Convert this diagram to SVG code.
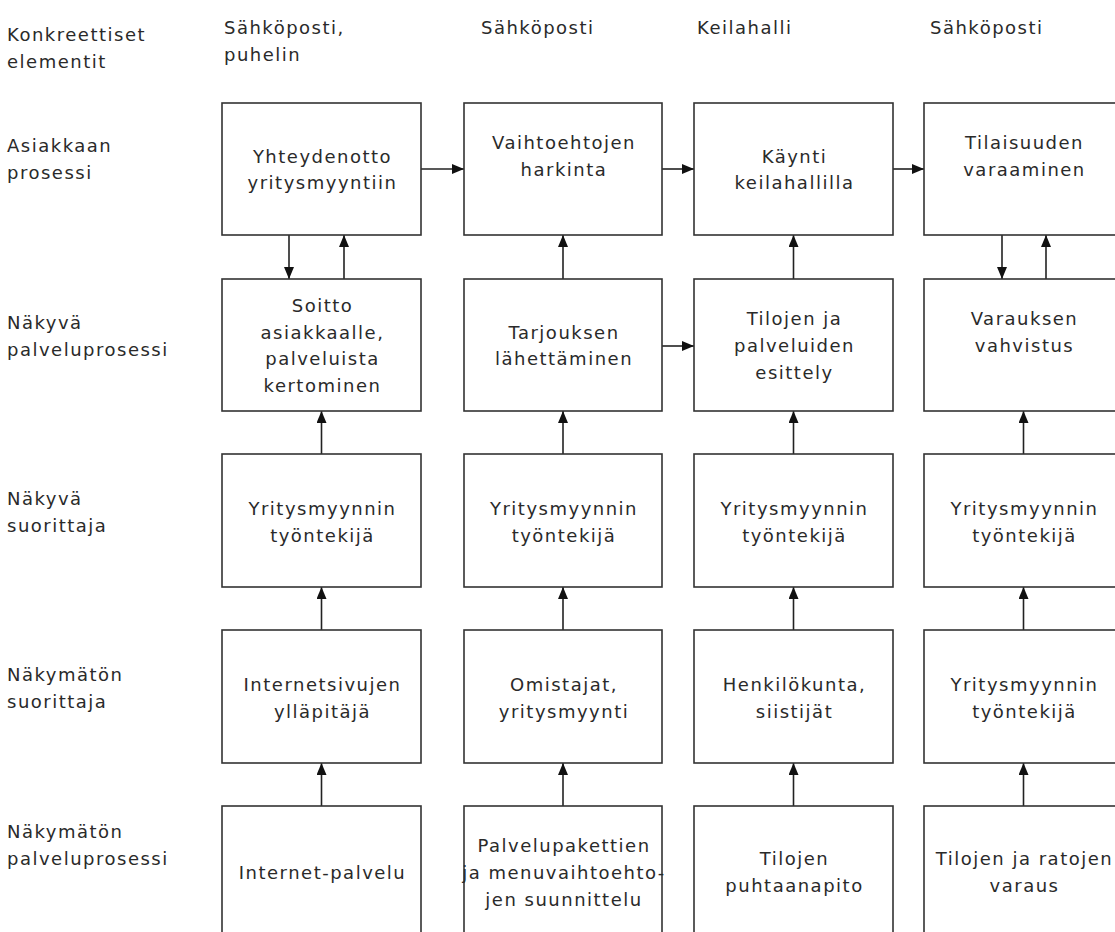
<svg xmlns="http://www.w3.org/2000/svg" width="1115" height="932" viewBox="0 0 1115 932">
  <style>
    text { font-family: "DejaVu Sans", "Verdana", sans-serif; font-size: 18px; fill: #2a2a2a; letter-spacing: 1.5px; }
    .c { text-anchor: middle; }
    .box { fill: #fff; stroke: #333; stroke-width: 1.6; }
    .conn { stroke: #222; stroke-width: 1.6; fill: none; marker-end: url(#arrow); }
  </style>
  <defs>
    <marker id="arrow" markerWidth="12" markerHeight="10" refX="12" refY="5" orient="auto" markerUnits="userSpaceOnUse">
      <path d="M0,0 L12,5 L0,10 Z" fill="#111"/>
    </marker>
  </defs>

  <rect width="1115" height="932" fill="#fff"/>

  <!-- row labels -->
  <g id="row-labels">
    <text x="7" y="41">Konkreettiset</text>
    <text x="7" y="68">elementit</text>
    <text x="7" y="152">Asiakkaan</text>
    <text x="7" y="179">prosessi</text>
    <text x="7" y="329">Näkyvä</text>
    <text x="7" y="356">palveluprosessi</text>
    <text x="7" y="505">Näkyvä</text>
    <text x="7" y="532">suorittaja</text>
    <text x="7" y="681">Näkymätön</text>
    <text x="7" y="708">suorittaja</text>
    <text x="7" y="838">Näkymätön</text>
    <text x="7" y="865">palveluprosessi</text>
  </g>

  <!-- concrete elements per column -->
  <g id="elements">
    <text x="224" y="34">Sähköposti,</text>
    <text x="224" y="61">puhelin</text>
    <text x="481" y="34">Sähköposti</text>
    <text x="697" y="34">Keilahalli</text>
    <text x="930" y="34">Sähköposti</text>
  </g>

  <!-- connectors -->
  <g id="connectors">
    <!-- customer process flow -->
    <line class="conn" x1="421" y1="169" x2="464" y2="169"/>
    <line class="conn" x1="662" y1="169" x2="694" y2="169"/>
    <line class="conn" x1="893" y1="169" x2="924" y2="169"/>
    <line class="conn" x1="662" y1="346" x2="694" y2="346"/>
    <!-- column 1 -->
    <line class="conn" x1="289" y1="235" x2="289" y2="279"/>
    <line class="conn" x1="344" y1="279" x2="344" y2="235"/>
    <line class="conn" x1="321.5" y1="454" x2="321.5" y2="411"/>
    <line class="conn" x1="321.5" y1="630" x2="321.5" y2="587"/>
    <line class="conn" x1="321.5" y1="806" x2="321.5" y2="763"/>
    <!-- column 2 -->
    <line class="conn" x1="563" y1="279" x2="563" y2="235"/>
    <line class="conn" x1="563" y1="454" x2="563" y2="411"/>
    <line class="conn" x1="563" y1="630" x2="563" y2="587"/>
    <line class="conn" x1="563" y1="806" x2="563" y2="763"/>
    <!-- column 3 -->
    <line class="conn" x1="793.5" y1="279" x2="793.5" y2="235"/>
    <line class="conn" x1="793.5" y1="454" x2="793.5" y2="411"/>
    <line class="conn" x1="793.5" y1="630" x2="793.5" y2="587"/>
    <line class="conn" x1="793.5" y1="806" x2="793.5" y2="763"/>
    <!-- column 4 -->
    <line class="conn" x1="1002" y1="235" x2="1002" y2="279"/>
    <line class="conn" x1="1046" y1="279" x2="1046" y2="235"/>
    <line class="conn" x1="1023.5" y1="454" x2="1023.5" y2="411"/>
    <line class="conn" x1="1023.5" y1="630" x2="1023.5" y2="587"/>
    <line class="conn" x1="1023.5" y1="806" x2="1023.5" y2="763"/>
  </g>

  <!-- row 1: customer process -->
  <g id="n-yhteydenotto">
    <rect class="box" x="222" y="103" width="199" height="132"/>
    <text class="c" x="322.5" y="163">Yhteydenotto</text>
    <text class="c" x="322.5" y="189">yritysmyyntiin</text>
  </g>
  <g id="n-vaihtoehdot">
    <rect class="box" x="464" y="103" width="198" height="132"/>
    <text class="c" x="564" y="149">Vaihtoehtojen</text>
    <text class="c" x="564" y="176">harkinta</text>
  </g>
  <g id="n-kaynti">
    <rect class="box" x="694" y="103" width="199" height="132"/>
    <text class="c" x="794.5" y="163">Käynti</text>
    <text class="c" x="794.5" y="189">keilahallilla</text>
  </g>
  <g id="n-varaaminen">
    <rect class="box" x="924" y="103" width="199" height="132"/>
    <text class="c" x="1024.5" y="149">Tilaisuuden</text>
    <text class="c" x="1024.5" y="176">varaaminen</text>
  </g>

  <!-- row 2: visible service process -->
  <g id="n-soitto">
    <rect class="box" x="222" y="279" width="199" height="132"/>
    <text class="c" x="322.5" y="312">Soitto</text>
    <text class="c" x="322.5" y="339">asiakkaalle,</text>
    <text class="c" x="322.5" y="365">palveluista</text>
    <text class="c" x="322.5" y="392">kertominen</text>
  </g>
  <g id="n-tarjous">
    <rect class="box" x="464" y="279" width="198" height="132"/>
    <text class="c" x="564" y="339">Tarjouksen</text>
    <text class="c" x="564" y="365">lähettäminen</text>
  </g>
  <g id="n-esittely">
    <rect class="box" x="694" y="279" width="199" height="132"/>
    <text class="c" x="794.5" y="325">Tilojen ja</text>
    <text class="c" x="794.5" y="352">palveluiden</text>
    <text class="c" x="794.5" y="379">esittely</text>
  </g>
  <g id="n-vahvistus">
    <rect class="box" x="924" y="279" width="199" height="132"/>
    <text class="c" x="1024.5" y="325">Varauksen</text>
    <text class="c" x="1024.5" y="352">vahvistus</text>
  </g>

  <!-- row 3: visible performer -->
  <g id="n-suorittaja-1">
    <rect class="box" x="222" y="454" width="199" height="133"/>
    <text class="c" x="322.5" y="515">Yritysmyynnin</text>
    <text class="c" x="322.5" y="542">työntekijä</text>
  </g>
  <g id="n-suorittaja-2">
    <rect class="box" x="464" y="454" width="198" height="133"/>
    <text class="c" x="564" y="515">Yritysmyynnin</text>
    <text class="c" x="564" y="542">työntekijä</text>
  </g>
  <g id="n-suorittaja-3">
    <rect class="box" x="694" y="454" width="199" height="133"/>
    <text class="c" x="794.5" y="515">Yritysmyynnin</text>
    <text class="c" x="794.5" y="542">työntekijä</text>
  </g>
  <g id="n-suorittaja-4">
    <rect class="box" x="924" y="454" width="199" height="133"/>
    <text class="c" x="1024.5" y="515">Yritysmyynnin</text>
    <text class="c" x="1024.5" y="542">työntekijä</text>
  </g>

  <!-- row 4: invisible performer -->
  <g id="n-yllapitaja">
    <rect class="box" x="222" y="630" width="199" height="133"/>
    <text class="c" x="322.5" y="691">Internetsivujen</text>
    <text class="c" x="322.5" y="718">ylläpitäjä</text>
  </g>
  <g id="n-omistajat">
    <rect class="box" x="464" y="630" width="198" height="133"/>
    <text class="c" x="564" y="691">Omistajat,</text>
    <text class="c" x="564" y="718">yritysmyynti</text>
  </g>
  <g id="n-henkilokunta">
    <rect class="box" x="694" y="630" width="199" height="133"/>
    <text class="c" x="794.5" y="691">Henkilökunta,</text>
    <text class="c" x="794.5" y="718">siistijät</text>
  </g>
  <g id="n-tyontekija">
    <rect class="box" x="924" y="630" width="199" height="133"/>
    <text class="c" x="1024.5" y="691">Yritysmyynnin</text>
    <text class="c" x="1024.5" y="718">työntekijä</text>
  </g>

  <!-- row 5: invisible service process -->
  <g id="n-internet">
    <rect class="box" x="222" y="806" width="199" height="140"/>
    <text class="c" x="322.5" y="879">Internet-palvelu</text>
  </g>
  <g id="n-suunnittelu">
    <rect class="box" x="464" y="806" width="198" height="140"/>
    <text class="c" x="564" y="852">Palvelupakettien</text>
    <text class="c" x="564" y="879">ja menuvaihtoehto-</text>
    <text class="c" x="564" y="906">jen suunnittelu</text>
  </g>
  <g id="n-puhtaanapito">
    <rect class="box" x="694" y="806" width="199" height="140"/>
    <text class="c" x="794.5" y="865">Tilojen</text>
    <text class="c" x="794.5" y="892">puhtaanapito</text>
  </g>
  <g id="n-varaus">
    <rect class="box" x="924" y="806" width="199" height="140"/>
    <text class="c" x="1024.5" y="865">Tilojen ja ratojen</text>
    <text class="c" x="1024.5" y="892">varaus</text>
  </g>
</svg>
